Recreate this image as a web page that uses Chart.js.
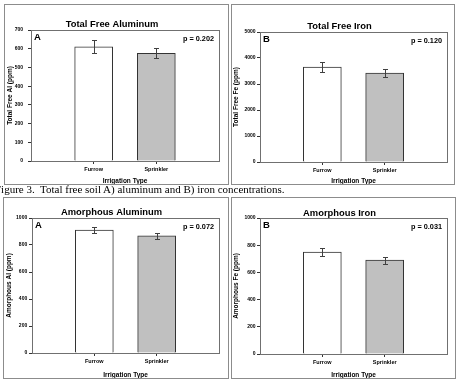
<!DOCTYPE html>
<html>
<head>
<meta charset="utf-8">
<script src="https://cdn.jsdelivr.net/npm/chart.js@4.4.1/dist/chart.umd.min.js"></script>
<style>
  body { margin: 0; background: #fff; width: 459px; height: 379px; position: relative; overflow: hidden; }
  .panel { position: absolute; border: 1px solid #8c8c8c; box-sizing: border-box; }
  .panel canvas { position: absolute; left: 0; top: 0; }
  #caption { position: absolute; left: -5px; top: 183px; font: 11px "Liberation Serif", "Times New Roman", serif; line-height: 12px; white-space: nowrap; color: #000; }
</style>
</head>
<body>
<div class="panel" style="left:4px;top:4px;width:225px;height:181px"><canvas id="c1" width="223" height="179"></canvas></div>
<div class="panel" style="left:231px;top:4px;width:224px;height:181px"><canvas id="c2" width="222" height="179"></canvas></div>
<div id="caption">Figure 3.&nbsp; Total free soil A) aluminum and B) iron concentrations.</div>
<div class="panel" style="left:3px;top:197px;width:226px;height:182px"><canvas id="c3" width="224" height="180"></canvas></div>
<div class="panel" style="left:231px;top:197px;width:225px;height:182px"><canvas id="c4" width="223" height="180"></canvas></div>

<script>
// --- dados ---
const categories = ['Furrow', 'Sprinkler'];

const totalAl = [610, 575];
const totalAlErr = [35, 27];
const totalFe = [3650, 3420];
const totalFeErr = [200, 160];
const amorphAl = [910, 868];
const amorphAlErr = [22, 22];
const amorphFe = [750, 690];
const amorphFeErr = [30, 25];

const alTicks = [0, 100, 200, 300, 400, 500, 600, 700];
const feTicks = [0, 1000, 2000, 3000, 4000, 5000];
const amorphTicks = [0, 200, 400, 600, 800, 1000];

const pValues = ['p = 0.202', 'p = 0.120', 'p = 0.072', 'p = 0.031'];

const FONT = '"Liberation Sans", Arial, sans-serif';
const barFill = ['#ffffff', '#c0c0c0'];

// --- plugins ---
const errorBars = {
  id: 'errorBars',
  afterDatasetsDraw(chart, args, opts) {
    const { ctx } = chart;
    const y = chart.scales.y;
    const meta = chart.getDatasetMeta(0);
    ctx.save();
    ctx.strokeStyle = '#404040';
    ctx.lineWidth = 1;
    meta.data.forEach((bar, i) => {
      const v = opts.values[i], e = opts.errs[i];
      const x = Math.round(bar.x) + 0.5;
      const yt = Math.round(y.getPixelForValue(v + e)) + 0.5;
      const yb = Math.round(y.getPixelForValue(v - e)) + 0.5;
      ctx.beginPath();
      ctx.moveTo(x, yt); ctx.lineTo(x, yb);
      ctx.moveTo(x - 2.5, yt); ctx.lineTo(x + 2.5, yt);
      ctx.moveTo(x - 2.5, yb); ctx.lineTo(x + 2.5, yb);
      ctx.stroke();
    });
    ctx.restore();
  }
};

const plotDeco = {
  id: 'plotDeco',
  beforeDatasetsDraw(chart) {
    const { ctx, chartArea: a } = chart;
    ctx.save();
    ctx.strokeStyle = '#707070';
    ctx.lineWidth = 1;
    ctx.strokeRect(Math.round(a.left) + 0.5, Math.round(a.top) + 0.5, Math.round(a.right - a.left), Math.round(a.bottom - a.top));
    ctx.restore();
  },
  afterDraw(chart, args, opts) {
    const { ctx, chartArea: a } = chart;
    ctx.save();
    ctx.fillStyle = '#000';
    ctx.textBaseline = 'middle';
    ctx.font = 'bold 9.5px ' + FONT;
    ctx.textAlign = 'left';
    ctx.fillText(opts.letter, a.left + 3, a.top + 7);
    ctx.font = 'bold 7.3px ' + FONT;
    ctx.textAlign = 'right';
    ctx.fillText(opts.p, a.right - 5, a.top + 9);
    ctx.restore();
  }
};

// --- painéis ---
const panels = [
  { id: 'c1', title: 'Total Free Aluminum', letter: 'A', p: pValues[0], yTitle: 'Total Free Al (ppm)',
    values: totalAl, errs: totalAlErr, ticks: alTicks, g: { l: 26, t: 25, r: 9, b: 23, tt: 14.3, tp: 5, yt: 1.8 } },
  { id: 'c2', title: 'Total Free Iron', letter: 'B', p: pValues[1], yTitle: 'Total Free Fe (ppm)',
    values: totalFe, errs: totalFeErr, ticks: feTicks, g: { l: 28, t: 27, r: 7, b: 22, tt: 17, tp: 1.5, yt: 1.2 } },
  { id: 'c3', title: 'Amorphous Aluminum', letter: 'A', p: pValues[2], yTitle: 'Amorphous Al (ppm)',
    values: amorphAl, errs: amorphAlErr, ticks: amorphTicks, g: { l: 28, t: 20, r: 9, b: 25, tt: 9.5, tp: 1.8, yt: 1.8 } },
  { id: 'c4', title: 'Amorphous Iron', letter: 'B', p: pValues[3], yTitle: 'Amorphous Fe (ppm)',
    values: amorphFe, errs: amorphFeErr, ticks: amorphTicks, g: { l: 28, t: 20, r: 8, b: 24, tt: 10.5, tp: 1.5, yt: 1.2 } }
];

panels.forEach(pn => {
  const g = pn.g;
  new Chart(document.getElementById(pn.id), {
    type: 'bar',
    data: {
      datasets: [{
        data: pn.values.map((v, i) => ({ x: i + 1, y: v })),
        backgroundColor: barFill,
        borderColor: '#333333',
        borderWidth: 1,
        barThickness: 38
      }]
    },
    options: {
      responsive: false,
      animation: false,
      layout: { padding: { top: 0, left: 0, right: g.r, bottom: 0 } },
      plugins: {
        legend: { display: false },
        tooltip: { enabled: false },
        title: {
          display: true, text: pn.title, color: '#000',
          font: { family: FONT, size: 9.4, weight: 'bold', lineHeight: 1 },
          padding: { top: g.tt, bottom: g.t - 9.4 - g.tt }
        },
        errorBars: { values: pn.values, errs: pn.errs },
        plotDeco: { letter: pn.letter, p: pn.p }
      },
      scales: {
        x: {
          type: 'linear', min: 0, max: 3, offset: false,
          afterBuildTicks: s => { s.ticks = categories.map((c, i) => ({ value: i + 1 })); },
          afterFit: s => { s.height = g.b; },
          ticks: {
            callback: v => categories[v - 1], color: '#000', padding: 2,
            maxRotation: 0, autoSkip: false,
            font: { family: FONT, size: 5.5, weight: 'bold' }
          },
          grid: { drawOnChartArea: false, drawTicks: true, tickLength: 3, color: '#333', offset: false },
          border: { display: true, color: '#333', width: 1 },
          title: {
            display: true, text: 'Irrigation Type', color: '#000', padding: 0,
            font: { family: FONT, size: 6.5, weight: 'bold', lineHeight: 1 }
          }
        },
        y: {
          min: 0, max: pn.ticks[pn.ticks.length - 1],
          afterBuildTicks: s => { s.ticks = pn.ticks.map(v => ({ value: v })); },
          afterFit: s => { s.width = g.l; },
          ticks: {
            callback: v => String(v), color: '#000', padding: g.tp,
            font: { family: FONT, size: 5, weight: 'bold' }
          },
          grid: { drawOnChartArea: false, drawTicks: true, tickLength: 3, color: '#333' },
          border: { display: true, color: '#333', width: 1 },
          title: {
            display: true, text: pn.yTitle, color: '#000', padding: { top: g.yt, bottom: 0 },
            font: { family: FONT, size: 6.5, weight: 'bold', lineHeight: 1 }
          }
        }
      }
    },
    plugins: [errorBars, plotDeco]
  });
});
</script>
</body>
</html>
